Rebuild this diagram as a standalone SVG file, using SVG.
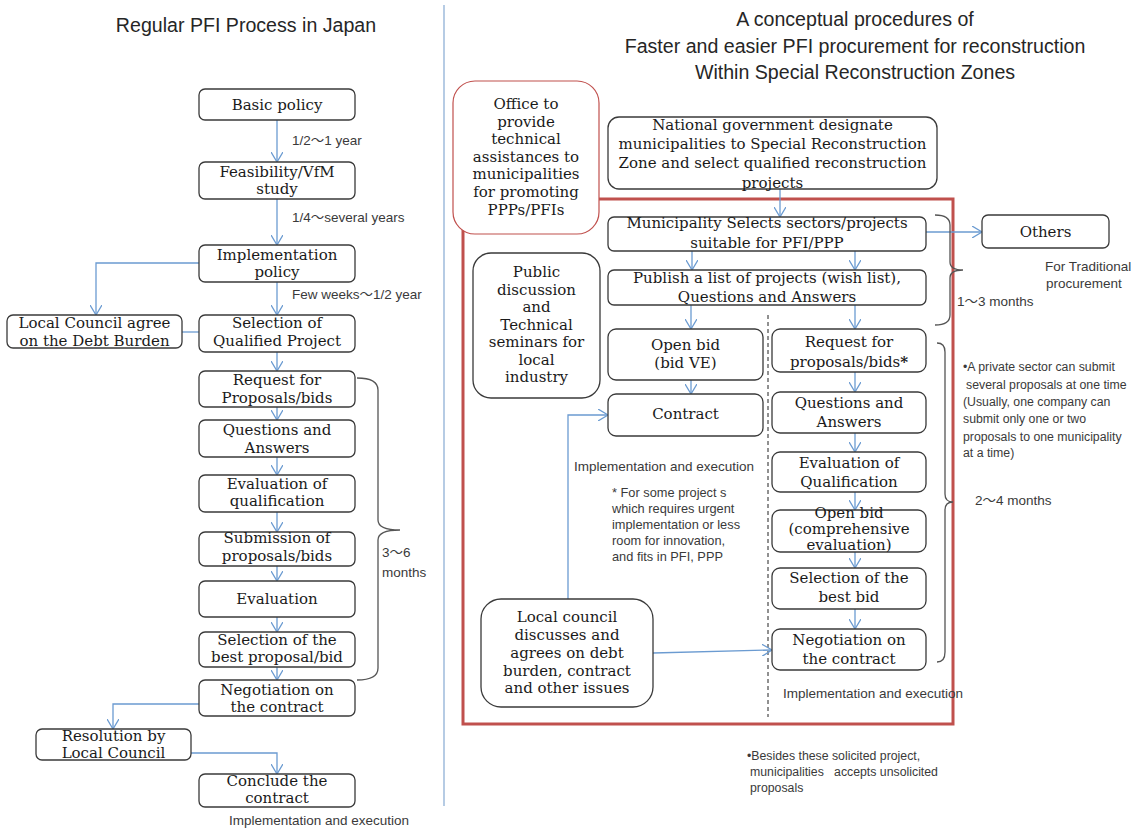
<svg xmlns="http://www.w3.org/2000/svg" width="1143" height="831" viewBox="0 0 1143 831">
<defs>
<style>
.box{fill:#fff;stroke:#3a3a3a;stroke-width:1.3}
.t{font-family:"DejaVu Serif","Liberation Serif",serif;font-size:15px;text-anchor:middle;fill:#1a1a1a}
.s{font-family:"Liberation Sans","Noto Sans CJK JP",sans-serif;font-size:13.5px;fill:#3a3a3a}
.n{font-family:"Liberation Sans","Noto Sans CJK JP",sans-serif;font-size:12.3px;fill:#3a3a3a;white-space:pre}
.m{font-family:"Liberation Sans",sans-serif;font-size:12.8px;fill:#3a3a3a}
.title{font-family:"Liberation Sans",sans-serif;font-size:19.6px;fill:#262626;text-anchor:middle}
.c{fill:none;stroke:#6b9bd1;stroke-width:1.3}
.br{fill:none;stroke:#555;stroke-width:1.3}
</style>
<marker id="ah" markerUnits="userSpaceOnUse" viewBox="0 0 10 12" refX="10" refY="6" markerWidth="10" markerHeight="12" orient="auto">
<path d="M0,0 L10,6 L0,12" fill="none" stroke="#6b9bd1" stroke-width="1.3"/>
</marker>
</defs>
<rect x="0" y="0" width="1143" height="831" fill="#fff"/>

<!-- titles -->
<text class="title" x="246" y="32">Regular PFI Process in Japan</text>
<text class="title" x="855" y="26">A conceptual procedures of</text>
<text class="title" x="855" y="53">Faster and easier PFI procurement for reconstruction</text>
<text class="title" x="855" y="79">Within Special Reconstruction Zones</text>
<line x1="444" y1="5" x2="444" y2="806" stroke="#8fb0d6" stroke-width="1.3"/>

<!-- red frame -->
<rect x="463" y="199" width="490" height="525" fill="none" stroke="#c0504d" stroke-width="3"/>
<line x1="768" y1="315" x2="768" y2="717" stroke="#222" stroke-width="1" stroke-dasharray="4,3"/>

<!-- connectors -->
<g id="connectors">
<line class="c" x1="277" y1="120" x2="277" y2="162" marker-end="url(#ah)"/>
<line class="c" x1="277" y1="199" x2="277" y2="245" marker-end="url(#ah)"/>
<line class="c" x1="277" y1="282" x2="277" y2="315" marker-end="url(#ah)"/>
<polyline class="c" points="199,263 96,263 96,315" marker-end="url(#ah)"/>
<line class="c" x1="182" y1="332" x2="199" y2="332"/>
<line class="c" x1="277" y1="352" x2="277" y2="371" marker-end="url(#ah)"/>
<line class="c" x1="277" y1="407" x2="277" y2="420" marker-end="url(#ah)"/>
<line class="c" x1="277" y1="457" x2="277" y2="475" marker-end="url(#ah)"/>
<line class="c" x1="277" y1="512" x2="277" y2="532" marker-end="url(#ah)"/>
<line class="c" x1="277" y1="566" x2="277" y2="581" marker-end="url(#ah)"/>
<line class="c" x1="277" y1="617" x2="277" y2="632" marker-end="url(#ah)"/>
<line class="c" x1="277" y1="667" x2="277" y2="680" marker-end="url(#ah)"/>
<polyline class="c" points="199,704 113,704 113,729" marker-end="url(#ah)"/>
<polyline class="c" points="191,753 277,753 277,774" marker-end="url(#ah)"/>

<line class="c" x1="780" y1="189" x2="780" y2="217" marker-end="url(#ah)"/>
<line class="c" x1="926" y1="232" x2="982" y2="232" marker-end="url(#ah)"/>
<line class="c" x1="692" y1="251" x2="692" y2="270" marker-end="url(#ah)"/>
<line class="c" x1="855" y1="251" x2="855" y2="270" marker-end="url(#ah)"/>
<line class="c" x1="691" y1="305" x2="691" y2="329" marker-end="url(#ah)"/>
<line class="c" x1="855" y1="305" x2="855" y2="329" marker-end="url(#ah)"/>
<line class="c" x1="691" y1="380" x2="691" y2="394" marker-end="url(#ah)"/>
<line class="c" x1="855" y1="372" x2="855" y2="392" marker-end="url(#ah)"/>
<line class="c" x1="855" y1="433" x2="855" y2="452" marker-end="url(#ah)"/>
<line class="c" x1="855" y1="492" x2="855" y2="510" marker-end="url(#ah)"/>
<line class="c" x1="855" y1="552" x2="855" y2="568" marker-end="url(#ah)"/>
<line class="c" x1="855" y1="609" x2="855" y2="629" marker-end="url(#ah)"/>
<polyline class="c" points="568,599 568,415 608,415" marker-end="url(#ah)"/>
<line class="c" x1="653" y1="653" x2="772" y2="650" marker-end="url(#ah)"/>
</g>

<!-- braces -->
<path class="br" d="M357,378 Q378,378 378,390 L378,520 Q378,530 400,530 Q378,530 378,540 L378,668 Q378,680 357,680"/>
<path class="br" d="M935,215 Q950,215 950,225 L950,262 Q950,270 963,270 Q950,270 950,278 L950,315 Q950,325 935,325"/>
<path class="br" d="M937,343 Q945,343 945,352 L945,494 Q945,502 953,502 Q945,502 945,510 L945,652 Q945,662 937,662"/>

<!-- left nodes -->
<g id="basic"><rect class="box" x="199" y="89" width="156" height="31" rx="6"/><text class="t" x="277" y="110">Basic policy</text></g>
<g id="feas"><rect class="box" x="199" y="162" width="156" height="37" rx="6"/><text class="t" x="277" y="177">Feasibility/VfM</text><text class="t" x="277" y="194">study</text></g>
<g id="impl"><rect class="box" x="199" y="245" width="156" height="37" rx="6"/><text class="t" x="277" y="260">Implementation</text><text class="t" x="277" y="277">policy</text></g>
<g id="council1"><rect class="box" x="7" y="315" width="175" height="33" rx="6"/><text class="t" x="94.5" y="328">Local Council agree</text><text class="t" x="94.5" y="346">on the Debt Burden</text></g>
<g id="selq"><rect class="box" x="199" y="315" width="156" height="37" rx="6"/><text class="t" x="277" y="328">Selection of</text><text class="t" x="277" y="346">Qualified Project</text></g>
<g id="rfp1"><rect class="box" x="199" y="371" width="156" height="36" rx="6"/><text class="t" x="277" y="385">Request for</text><text class="t" x="277" y="403">Proposals/bids</text></g>
<g id="qa1"><rect class="box" x="199" y="420" width="156" height="37" rx="6"/><text class="t" x="277" y="435">Questions and</text><text class="t" x="277" y="453">Answers</text></g>
<g id="evq1"><rect class="box" x="199" y="475" width="156" height="37" rx="6"/><text class="t" x="277" y="489">Evaluation of</text><text class="t" x="277" y="506">qualification</text></g>
<g id="sub1"><rect class="box" x="199" y="532" width="156" height="34" rx="6"/><text class="t" x="277" y="543">Submission of</text><text class="t" x="277" y="561">proposals/bids</text></g>
<g id="eval1"><rect class="box" x="199" y="581" width="156" height="36" rx="6"/><text class="t" x="277" y="604">Evaluation</text></g>
<g id="best1"><rect class="box" x="199" y="632" width="156" height="35" rx="6"/><text class="t" x="277" y="645">Selection of the</text><text class="t" x="277" y="662">best proposal/bid</text></g>
<g id="neg1"><rect class="box" x="199" y="680" width="156" height="36" rx="6"/><text class="t" x="277" y="695">Negotiation on</text><text class="t" x="277" y="712">the contract</text></g>
<g id="resol"><rect class="box" x="36" y="729" width="155" height="31" rx="6"/><text class="t" x="113.5" y="741">Resolution by</text><text class="t" x="113.5" y="758">Local Council</text></g>
<g id="conclude"><rect class="box" x="199" y="774" width="156" height="33" rx="6"/><text class="t" x="277" y="786">Conclude the</text><text class="t" x="277" y="803">contract</text></g>

<!-- left labels -->
<text class="s" x="292" y="145">1/2〜1 year</text>
<text class="s" x="292" y="222">1/4〜several years</text>
<text class="s" x="292" y="299">Few weeks〜1/2 year</text>
<text class="s" x="382" y="557">3〜6</text>
<text class="s" x="382" y="577">months</text>
<text class="s" x="229" y="825">Implementation and execution</text>

<!-- right nodes -->
<g id="office"><rect x="453" y="81" width="146" height="153" rx="22" fill="#fff" stroke="#c0504d" stroke-width="1.2"/>
<text class="t" x="526" y="109">Office to</text><text class="t" x="526" y="127">provide</text><text class="t" x="526" y="144">technical</text><text class="t" x="526" y="162">assistances to</text><text class="t" x="526" y="179">municipalities</text><text class="t" x="526" y="197">for promoting</text><text class="t" x="526" y="215">PPPs/PFIs</text></g>
<g id="national"><rect class="box" x="608" y="117" width="329" height="72" rx="11"/>
<text class="t" x="772.5" y="130">National government designate</text><text class="t" x="772.5" y="149">municipalities to Special Reconstruction</text><text class="t" x="772.5" y="168">Zone and select qualified reconstruction</text><text class="t" x="772.5" y="188">projects</text></g>
<g id="muni"><rect class="box" x="608" y="217" width="318" height="34" rx="6"/><text class="t" x="767" y="228">Municipality Selects sectors/projects</text><text class="t" x="767" y="248">suitable for PFI/PPP</text></g>
<g id="others"><rect class="box" x="982" y="215" width="127" height="33" rx="6"/><text class="t" x="1045.5" y="237">Others</text></g>
<g id="publish"><rect class="box" x="608" y="270" width="318" height="35" rx="6"/><text class="t" x="767" y="283">Publish a list of projects (wish list),</text><text class="t" x="767" y="302">Questions and Answers</text></g>
<g id="public"><rect class="box" x="473" y="253" width="127" height="145" rx="18"/>
<text class="t" x="536.5" y="277">Public</text><text class="t" x="536.5" y="294.5">discussion</text><text class="t" x="536.5" y="312">and</text><text class="t" x="536.5" y="329.5">Technical</text><text class="t" x="536.5" y="347">seminars for</text><text class="t" x="536.5" y="364.5">local</text><text class="t" x="536.5" y="382">industry</text></g>
<g id="openve"><rect class="box" x="608" y="329" width="155" height="51" rx="8"/><text class="t" x="685.5" y="350">Open bid</text><text class="t" x="685.5" y="368">(bid VE)</text></g>
<g id="contract"><rect class="box" x="608" y="394" width="155" height="42" rx="8"/><text class="t" x="685.5" y="419">Contract</text></g>
<g id="rfp2"><rect class="box" x="772" y="329" width="154" height="43" rx="8"/><text class="t" x="849" y="347">Request for</text><text class="t" x="849" y="367">proposals/bids<tspan font-weight="bold">*</tspan></text></g>
<g id="qa2"><rect class="box" x="772" y="392" width="154" height="41" rx="8"/><text class="t" x="849" y="408">Questions and</text><text class="t" x="849" y="427">Answers</text></g>
<g id="evq2"><rect class="box" x="772" y="452" width="154" height="40" rx="8"/><text class="t" x="849" y="468">Evaluation of</text><text class="t" x="849" y="487">Qualification</text></g>
<g id="open2"><rect class="box" x="772" y="510" width="154" height="42" rx="8"/><text class="t" x="849" y="518">Open bid</text><text class="t" x="849" y="534">(comprehensive</text><text class="t" x="849" y="550">evaluation)</text></g>
<g id="best2"><rect class="box" x="772" y="568" width="154" height="41" rx="8"/><text class="t" x="849" y="583">Selection of the</text><text class="t" x="849" y="602">best bid</text></g>
<g id="neg2"><rect class="box" x="772" y="629" width="154" height="41" rx="8"/><text class="t" x="849" y="645">Negotiation on</text><text class="t" x="849" y="664">the contract</text></g>
<g id="council2"><rect class="box" x="481" y="599" width="172" height="108" rx="20"/>
<text class="t" x="567" y="622">Local council</text><text class="t" x="567" y="640">discusses and</text><text class="t" x="567" y="658">agrees on debt</text><text class="t" x="567" y="676">burden, contract</text><text class="t" x="567" y="693">and other issues</text></g>

<!-- right labels -->
<text class="s" x="957" y="306">1〜3 months</text>
<text class="s" x="1045" y="271">For Traditional</text>
<text class="s" x="1046" y="288">procurement</text>
<text class="n" x="963" y="371">•A private sector can submit</text>
<text class="n" x="966" y="389">several proposals at one time</text>
<text class="n" x="963" y="406">(Usually, one company can</text>
<text class="n" x="963" y="423">submit only one or two</text>
<text class="n" x="963" y="441">proposals to one municipality</text>
<text class="n" x="963" y="457">at a time)</text>
<text class="s" x="975" y="505">2〜4 months</text>
<text class="s" x="574" y="471">Implementation and execution</text>
<text class="m" x="612" y="497">* For some project s</text>
<text class="m" x="612" y="513">which requires urgent</text>
<text class="m" x="612" y="529">implementation or less</text>
<text class="m" x="612" y="545">room for innovation,</text>
<text class="m" x="612" y="561">and fits in PFI, PPP</text>
<text class="s" x="783" y="698">Implementation and execution</text>
<text class="n" x="747" y="760">•Besides these solicited project,</text>
<text class="n" x="750" y="776">municipalities   accepts unsolicited</text>
<text class="n" x="750" y="792">proposals</text>
</svg>
